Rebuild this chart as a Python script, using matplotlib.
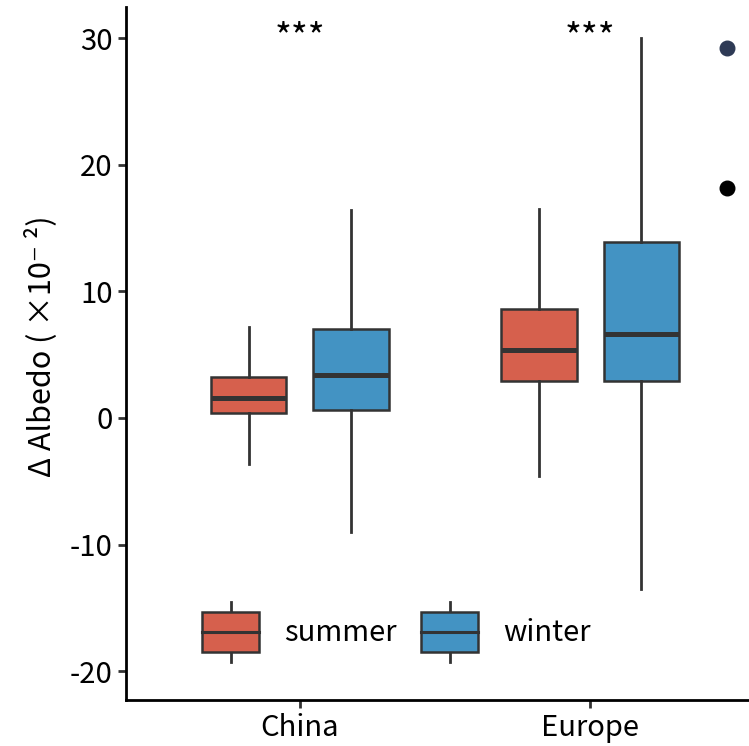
import matplotlib
matplotlib.use("Agg")
import matplotlib.pyplot as plt
from matplotlib.patches import Patch, Rectangle
from matplotlib.lines import Line2D
from matplotlib.legend_handler import HandlerBase

plt.rcParams['font.family'] = ['Noto Sans CJK SC', 'DejaVu Sans']
plt.rcParams['axes.unicode_minus'] = False

# --- data ---
groups = ['China', 'Europe']
seasons = ['summer', 'winter']
colors = ['#D6604D', '#4393C3']
whislo = [[-3.6, -9.0], [-4.6, -13.5]]
q1 = [[0.4, 0.6], [2.9, 2.9]]
med = [[1.6, 3.4], [5.4, 6.6]]
q3 = [[3.2, 7.05], [8.6, 13.9]]
whishi = [[7.2, 16.4], [16.5, 30.0]]
sig = ['***', '***']
extra_y = [29.2, 18.2]
extra_colors = ['#2e3a55', '#000000']

EDGE = '#333333'


class BoxHandler(HandlerBase):
    def create_artists(self, legend, orig_handle, xdescent, ydescent,
                       width, height, fontsize, trans):
        bh = height * 0.66
        x0 = -xdescent
        y0 = (height - bh) / 2 - ydescent
        xm = x0 + width / 2
        wl = Line2D([xm, xm], [-ydescent, y0], color=EDGE, lw=2.0, transform=trans)
        wu = Line2D([xm, xm], [y0 + bh, height - ydescent], color=EDGE, lw=2.0, transform=trans)
        rect = Rectangle((x0, y0), width, bh, facecolor=orig_handle.get_facecolor(),
                         edgecolor=EDGE, lw=1.8, transform=trans)
        mline = Line2D([x0, x0 + width], [y0 + bh / 2] * 2, color=EDGE, lw=2.2, transform=trans)
        return [wl, wu, rect, mline]


fig = plt.figure(figsize=(7.49, 7.46), dpi=100)
ax = fig.add_axes([0.168, 0.0617, 0.832, 0.929])

offset = 0.176
for gi, g in enumerate(groups):
    for si, s in enumerate(seasons):
        stats = [dict(whislo=whislo[gi][si], q1=q1[gi][si], med=med[gi][si],
                      q3=q3[gi][si], whishi=whishi[gi][si], fliers=[])]
        pos = gi + 1 + (si - 0.5) * 2 * offset
        ax.bxp(stats, positions=[pos], widths=0.259, patch_artist=True,
               showcaps=False, showfliers=False,
               boxprops=dict(facecolor=colors[si], edgecolor=EDGE, linewidth=1.8),
               whiskerprops=dict(color=EDGE, linewidth=2.0),
               medianprops=dict(color=EDGE, linewidth=3.6, solid_capstyle='butt'))
    ax.text(gi + 1, 29.2, sig[gi], ha='center', va='baseline', fontsize=26)

for y, c in zip(extra_y, extra_colors):
    ax.scatter([2.472], [y], s=110, color=c, zorder=5)

ax.set_xlim(0.4, 2.548)
ax.set_ylim(-22.27, 32.46)
ax.set_xticks([1, 2])
ax.set_xticklabels(groups)
ax.set_yticks([-20, -10, 0, 10, 20, 30])
ax.set_ylabel('Δ Albedo ( ×10⁻ ²)', fontsize=22)
ax.yaxis.set_label_coords(-0.11, 0.51)
ax.tick_params(labelsize=21, length=6, width=2.0, color=EDGE)
for sp in ['top', 'right']:
    ax.spines[sp].set_visible(False)
for sp in ['left', 'bottom']:
    ax.spines[sp].set_linewidth(2.0)

handles = [Patch(facecolor=c, label=s) for c, s in zip(colors, seasons)]
ax.legend(handles=handles, handler_map={Patch: BoxHandler()}, loc='center',
          bbox_to_anchor=(0.434, 0.098), ncol=2, frameon=False, fontsize=21,
          handlelength=1.95, handleheight=2.75, handletextpad=0.85, columnspacing=0.85)

fig.savefig('out.png', dpi=100)
